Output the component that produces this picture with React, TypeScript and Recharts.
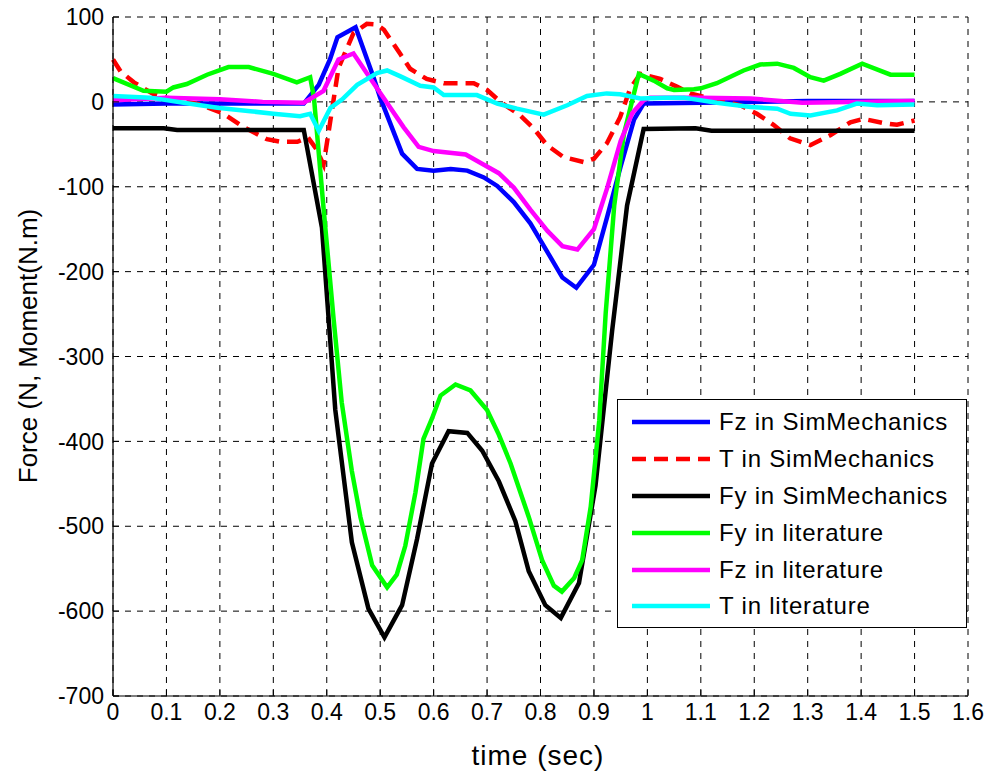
import { LineChart, Line, XAxis, YAxis, CartesianGrid, Legend } from 'recharts'

// [time (s), value] pairs
const fzSim: [number, number][] = [
  [0, -3], [0.1, -2], [0.357, -2], [0.385, 20], [0.406, 50], [0.42, 76], [0.454, 88],
  [0.487, 30], [0.5, 5], [0.541, -61], [0.569, -79], [0.6, -81], [0.632, -79], [0.663, -81],
  [0.694, -89], [0.719, -99], [0.75, -118], [0.781, -143], [0.813, -177], [0.841, -207],
  [0.867, -219], [0.9, -192], [0.925, -135], [0.95, -76], [0.975, -21], [0.993, -2],
  [1.1, -1], [1.3, 1], [1.5, 1],
]

const tSim: [number, number][] = [
  [0, 50], [0.014, 36], [0.039, 23], [0.076, 9], [0.1, 5], [0.163, -3], [0.207, -14],
  [0.245, -30], [0.288, -44], [0.313, -47], [0.345, -47], [0.365, -42], [0.38, -55],
  [0.394, -74], [0.422, 40], [0.45, 81], [0.475, 92], [0.494, 91], [0.507, 85], [0.538, 56],
  [0.556, 39], [0.587, 27], [0.619, 22], [0.675, 22], [0.7, 14], [0.725, 0], [0.762, -16],
  [0.787, -31], [0.812, -51], [0.843, -65], [0.881, -71], [0.9, -67], [0.924, -49],
  [0.949, -18], [0.968, 16], [0.987, 33], [1.024, 27], [1.055, 18], [1.08, 10], [1.13, 2],
  [1.174, -4], [1.205, -14], [1.236, -27], [1.267, -43], [1.305, -51], [1.343, -39],
  [1.38, -24], [1.404, -20], [1.442, -25], [1.467, -27], [1.5, -22],
]

const fySim: [number, number][] = [
  [0, -31], [0.095, -31], [0.12, -33], [0.357, -33], [0.391, -148], [0.416, -363],
  [0.447, -519], [0.478, -597], [0.508, -631], [0.541, -593], [0.569, -515], [0.597, -426],
  [0.628, -388], [0.663, -390], [0.691, -411], [0.722, -447], [0.753, -494], [0.778, -553],
  [0.809, -593], [0.838, -608], [0.872, -567], [0.903, -452], [0.934, -270], [0.962, -122],
  [0.993, -32], [1.09, -31], [1.12, -34], [1.5, -34],
]

const fyLit: [number, number][] = [
  [0, 28], [0.057, 13], [0.1, 12], [0.113, 17], [0.138, 21], [0.176, 32], [0.216, 41],
  [0.254, 41], [0.3, 33], [0.344, 23], [0.369, 29], [0.376, 5], [0.394, -125], [0.413, -257],
  [0.428, -354], [0.447, -435], [0.463, -489], [0.485, -546], [0.513, -572], [0.531, -557],
  [0.547, -523], [0.566, -460], [0.581, -397], [0.597, -373], [0.613, -346], [0.641, -333],
  [0.669, -340], [0.7, -363], [0.722, -392], [0.744, -426], [0.778, -489], [0.803, -540],
  [0.825, -570], [0.84, -577], [0.863, -561], [0.878, -540], [0.894, -477], [0.91, -375],
  [0.922, -249], [0.938, -122], [0.956, -38], [0.984, 33], [1.012, 25], [1.037, 16],
  [1.05, 14], [1.087, 15], [1.1, 16], [1.13, 22], [1.18, 37], [1.211, 44], [1.243, 45],
  [1.274, 40], [1.305, 29], [1.33, 25], [1.361, 33], [1.402, 45], [1.427, 39], [1.455, 32],
  [1.5, 32],
]

const fzLit: [number, number][] = [
  [0, 2], [0.1, 5], [0.2, 3], [0.28, 0], [0.357, -1], [0.394, 13], [0.422, 50], [0.45, 57],
  [0.494, 16], [0.544, -30], [0.572, -53], [0.6, -58], [0.66, -62], [0.694, -74], [0.722, -84],
  [0.75, -101], [0.781, -127], [0.813, -152], [0.841, -170], [0.869, -174], [0.9, -150],
  [0.925, -101], [0.95, -46], [0.972, -13], [0.993, 2], [1.005, 5], [1.1, 5], [1.193, 4],
  [1.29, -1], [1.5, 1],
]

const tLit: [number, number][] = [
  [0, 7], [0.07, 5], [0.132, -1], [0.195, -7], [0.257, -11], [0.3, -14], [0.35, -17],
  [0.369, -14], [0.385, -34], [0.407, -7], [0.429, 3], [0.457, 20], [0.494, 34], [0.513, 37],
  [0.538, 30], [0.575, 19], [0.6, 17], [0.619, 8], [0.681, 8], [0.719, -2], [0.756, -8],
  [0.806, -15], [0.85, -4], [0.887, 7], [0.924, 10], [0.949, 9], [0.987, 4], [1.036, 5],
  [1.068, 5], [1.13, -1], [1.193, -6], [1.243, -8], [1.268, -14], [1.305, -16], [1.355, -10],
  [1.392, -2], [1.43, -4], [1.5, -3],
]

const timeTicks = [0, 0.1, 0.2, 0.3, 0.4, 0.5, 0.6, 0.7, 0.8, 0.9, 1, 1.1, 1.2, 1.3, 1.4, 1.5, 1.6]
const forceTicks = [100, 0, -100, -200, -300, -400, -500, -600, -700]

const FONT = 'Arial, "Liberation Sans", Helvetica, sans-serif'

const seriesList = [
  { name: 'Fz in SimMechanics', data: fzSim, color: '#0000ff', dash: undefined },
  { name: 'T in SimMechanics', data: tSim, color: '#ff0000', dash: '14 8' },
  { name: 'Fy in SimMechanics', data: fySim, color: '#000000', dash: undefined },
  { name: 'Fy in literature', data: fyLit, color: '#00ff00', dash: undefined },
  { name: 'Fz in literature', data: fzLit, color: '#ff00ff', dash: undefined },
  { name: 'T in literature', data: tLit, color: '#00ffff', dash: undefined },
]

const toPoints = (pairs: [number, number][]) => pairs.map(([t, v]) => ({ t, v }))

// axis titles are placed by hand, like MATLAB does
function AxisTitle({ px, py, rot = 0, size, text, spacing = 0 }: any) {
  return (
    <g transform={`translate(${px}, ${py}) rotate(${rot})`}>
      <text
        x={0}
        y={0}
        textAnchor="middle"
        fontFamily={FONT}
        fontSize={size}
        fill="#000"
        letterSpacing={spacing}
      >
        {text}
      </text>
    </g>
  )
}

function renderLegend(props: any) {
  const names = (props.payload || []).map((p: any) => p.value)
  const rows = seriesList.filter(s => names.length === 0 || names.includes(s.name))
  return (
    <div
      style={{
        boxSizing: 'border-box',
        width: 350,
        height: 229,
        border: '1.5px solid #000',
        background: '#fff',
        paddingTop: 4,
      }}
    >
      {rows.map(s => (
        <div key={s.name} style={{ height: 36.8, display: 'flex', alignItems: 'center' }}>
          <svg width={78} height={10} style={{ marginLeft: 14, marginRight: 9 }}>
            <line x1={0} y1={5} x2={78} y2={5} stroke={s.color} strokeWidth={4.5} strokeDasharray={s.dash} />
          </svg>
          <span
            style={{
              fontFamily: FONT,
              fontSize: 24,
              letterSpacing: 0.8,
              color: '#000',
              whiteSpace: 'nowrap',
            }}
          >
            {s.name}
          </span>
        </div>
      ))}
    </div>
  )
}

export default function App() {
  const tickStyle = { fill: '#000', fontSize: 23, fontFamily: FONT }
  const axisLine = { stroke: '#000', strokeWidth: 1.2 }
  const tickLine = { stroke: '#000', strokeWidth: 1 }
  return (
    <div style={{ position: 'absolute', left: 0, top: 0, width: 993, height: 775, background: '#fff' }}>
      <LineChart width={993} height={775} margin={{ top: 17, right: 25, bottom: 0, left: 0 }}>
        <CartesianGrid stroke="#000" strokeWidth={1} strokeDasharray="6 6" />
        <XAxis
          dataKey="t"
          type="number"
          domain={[0, 1.6]}
          ticks={timeTicks}
          tickFormatter={(v: number) => String(v)}
          allowDuplicatedCategory={false}
          height={79}
          tick={tickStyle}
          tickLine={tickLine}
          tickSize={-6}
          tickMargin={14}
          axisLine={axisLine}
          label={<AxisTitle px={538} py={765} size={28} spacing={1} text="time (sec)" />}
        />
        <XAxis
          xAxisId="top"
          orientation="top"
          type="number"
          domain={[0, 1.6]}
          ticks={timeTicks}
          height={0}
          tick={false}
          tickLine={tickLine}
          tickSize={-6}
          axisLine={axisLine}
        />
        <YAxis
          type="number"
          domain={[-700, 100]}
          ticks={forceTicks}
          width={113}
          tick={tickStyle}
          tickLine={tickLine}
          tickSize={-6}
          tickMargin={15}
          axisLine={axisLine}
          label={<AxisTitle px={37} py={346} rot={-90} size={26} text="Force (N, Moment(N.m)" />}
        />
        <YAxis
          yAxisId="right"
          orientation="right"
          type="number"
          domain={[-700, 100]}
          ticks={forceTicks}
          width={0}
          tick={false}
          tickLine={tickLine}
          tickSize={-6}
          axisLine={axisLine}
        />
        {seriesList.map(s => (
          <Line
            key={s.name}
            name={s.name}
            data={toPoints(s.data)}
            dataKey="v"
            type="linear"
            stroke={s.color}
            strokeWidth={4.5}
            strokeDasharray={s.dash}
            dot={false}
            activeDot={false}
            isAnimationActive={false}
          />
        ))}
        <Legend
          layout="vertical"
          align="center"
          verticalAlign="middle"
          wrapperStyle={{ left: 617, top: 399, width: 350, height: 229 }}
          content={renderLegend}
        />
      </LineChart>
    </div>
  )
}
